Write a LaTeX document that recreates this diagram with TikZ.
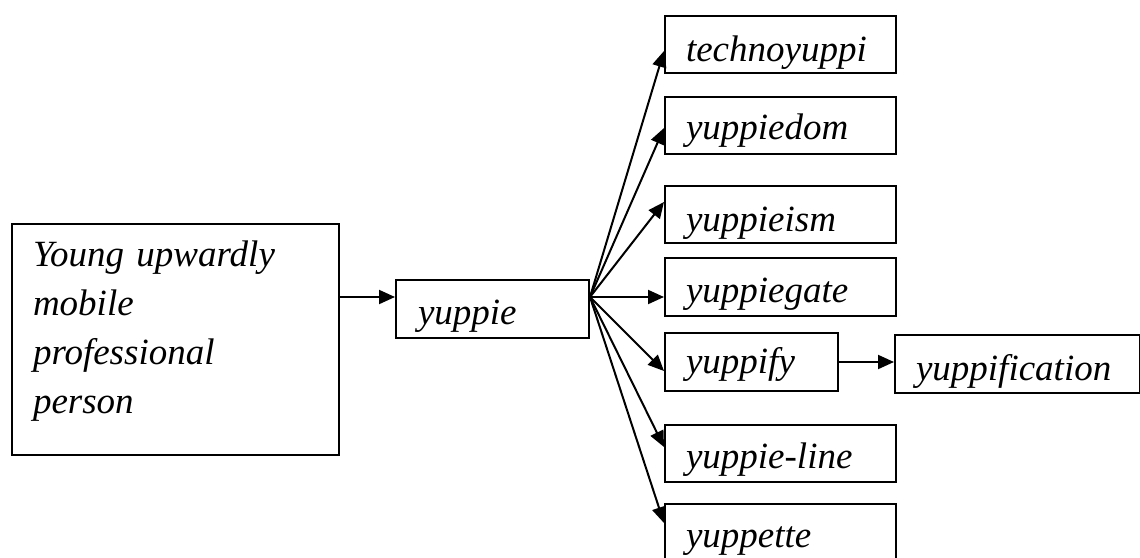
\documentclass[tikz,border=0pt]{standalone}
\usepackage{fontspec}
\setmainfont{Liberation Serif}
\usetikzlibrary{arrows.meta}

\begin{document}
\begin{tikzpicture}[x=1pt, y=-1pt,
  word/.style={draw, line width=2pt, anchor=north west, inner xsep=21pt, inner ysep=0pt,
    align=left, font=\fontsize{37}{49}\selectfont\itshape},
  arr/.style={line width=2pt, -{Triangle[length=16pt,width=14pt]}}]
  \useasboundingbox (0,0) rectangle (1140,557);
  \clip (0,0) rectangle (1140,557);

  % source phrase and the base word
  \node[word, text width=285pt, text height=42pt, text depth=189pt] (src) at (11,223)
    {Young upwardly\\mobile\\professional\\person};
  \node[word, inner xsep=22pt, text width=149pt, text height=44pt, text depth=14pt] (yp) at (395,279) {yuppie};

  % derived words
  \node[word, text width=189pt, text height=45pt, text depth=12pt] (techno) at (664,15)  {technoyuppi};
  \node[word, text width=189pt, text height=42pt, text depth=15pt] (dom)    at (664,96)  {yuppiedom};
  \node[word, text width=189pt, text height=45pt, text depth=12pt] (ism)    at (664,185) {yuppieism};
  \node[word, text width=189pt, text height=44pt, text depth=14pt] (gate)   at (664,257) {yuppiegate};
  \node[word, text width=131pt, text height=40pt, text depth=18pt] (ify)    at (664,332) {yuppify};
  \node[word, text width=203pt, text height=45pt, text depth=13pt] (ifc)    at (894,334) {yuppification};
  \node[word, text width=189pt, text height=43pt, text depth=14pt] (line)   at (664,424) {yuppie-line};
  \node[word, text width=189pt, text height=43pt, text depth=14pt] (ette)   at (664,503) {yuppette};

  % fan point on the right side of the base word
  \coordinate (fan) at ([yshift=12pt]yp.east);

  \draw[arr] (src.east |- fan) -- (yp.west |- fan);

  \draw[arr] (fan) -- ([yshift=-6.5pt]techno.west);
  \draw[arr] (fan) -- ([yshift=-2.5pt]dom.west);
  \draw[arr] (fan) -- ([yshift=12.5pt]ism.west);
  \draw[arr] (fan) -- (fan -| gate.west);
  \draw[arr] (fan) -- ([yshift=-9pt]ify.west);
  \draw[arr] (fan) -- ([yshift=6.5pt]line.west);
  \draw[arr] (fan) -- ([yshift=-20pt]ette.north west);

  \draw[arr] (ify.east) -- (ify.east -| ifc.west);
\end{tikzpicture}
\end{document}
